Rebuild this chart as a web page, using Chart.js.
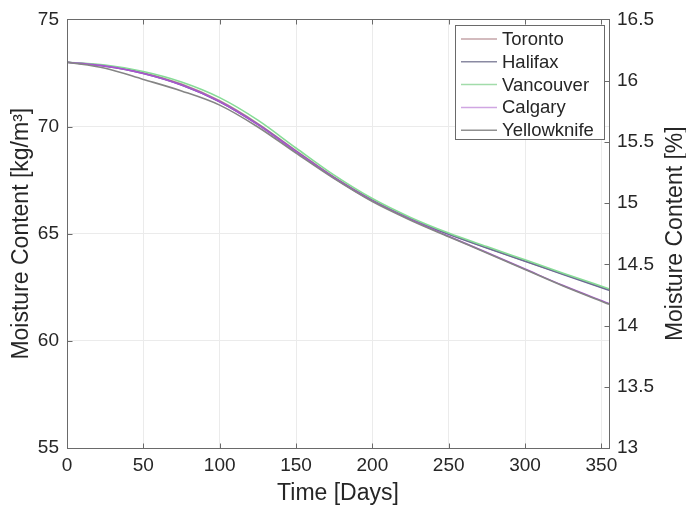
<!DOCTYPE html>
<html>
<head>
<meta charset="utf-8">
<script src="https://cdn.jsdelivr.net/npm/chart.js@4.4.1/dist/chart.umd.min.js"></script>
<style>
html,body{margin:0;padding:0;background:#fff;}
#wrap{width:686px;height:510px;position:relative;}
</style>
</head>
<body>
<div id="wrap"><canvas id="c" width="686" height="510"></canvas></div>
<script>
const days       = [0, 25, 50, 75, 100, 125, 150, 175, 200, 225, 250, 275, 300, 325, 355];
const toronto    = [73.0, 72.84, 72.51, 71.98, 71.20, 70.14, 68.88, 67.64, 66.58, 65.71, 64.99, 64.35, 63.73, 63.12, 62.38];
const halifax    = [73.0, 72.82, 72.48, 71.94, 71.16, 70.10, 68.84, 67.61, 66.55, 65.69, 64.97, 64.33, 63.71, 63.10, 62.36];
const vancouver  = [73.0, 72.87, 72.57, 72.08, 71.35, 70.30, 69.00, 67.73, 66.64, 65.76, 65.03, 64.40, 63.78, 63.16, 62.43];
const calgary    = [73.0, 72.82, 72.48, 71.94, 71.16, 70.09, 68.83, 67.60, 66.53, 65.66, 64.88, 64.12, 63.35, 62.58, 61.74];
const yellowknife= [73.0, 72.72, 72.20, 71.66, 71.00, 69.98, 68.76, 67.57, 66.50, 65.63, 64.86, 64.10, 63.33, 62.56, 61.71];

const cities = ['Toronto', 'Halifax', 'Vancouver', 'Calgary', 'Yellowknife'];
const seriesValues = [toronto, halifax, vancouver, calgary, yellowknife];
const colors = ['#b48a94', '#6c6c96', '#86dc96', '#a955d0', '#858585'];
const legendColors = ['#c4a4a8', '#8a8aa2', '#a2dcaa', '#d0a6e2', '#909090'];

const xTicks = [0, 50, 100, 150, 200, 250, 300, 350];
const leftTicks = [55, 60, 65, 70, 75];
const rightTicks = [13, 13.5, 14, 14.5, 15, 15.5, 16, 16.5];

const FONT = '"Liberation Sans", Arial, Helvetica, sans-serif';
const TXT = '#262626';

const datasets = cities.map((name, i) => ({
  label: name,
  data: days.map((d, j) => ({x: d, y: seriesValues[i][j]})),
  borderColor: colors[i],
  backgroundColor: colors[i],
  borderWidth: 1.6,
  pointRadius: 0,
  cubicInterpolationMode: 'monotone',
  fill: false,
  order: cities.length - i,
  yAxisID: 'y'
}));

const matlabPlugin = {
  id: 'matlab',
  afterDraw(chart) {
    const {ctx, chartArea: a, scales} = chart;
    const L = Math.round(a.left) + 0.5, R = Math.round(a.right) + 0.5;
    const T = Math.round(a.top) + 0.5, B = Math.round(a.bottom) + 0.5;
    ctx.save();
    ctx.strokeStyle = '#6a6a6a';
    ctx.lineWidth = 1;
    ctx.strokeRect(L, T, R - L, B - T);
    const tl = 5;
    ctx.beginPath();
    xTicks.forEach(v => {
      const px = Math.round(scales.x.getPixelForValue(v)) + 0.5;
      ctx.moveTo(px, B); ctx.lineTo(px, B - tl);
      ctx.moveTo(px, T); ctx.lineTo(px, T + tl);
    });
    leftTicks.forEach(v => {
      const py = Math.round(scales.y.getPixelForValue(v)) + 0.5;
      ctx.moveTo(L, py); ctx.lineTo(L + tl, py);
    });
    rightTicks.forEach(v => {
      const py = Math.round(scales.y2.getPixelForValue(v)) + 0.5;
      ctx.moveTo(R, py); ctx.lineTo(R - tl, py);
    });
    ctx.stroke();

    // legend box (inside plot, top right)
    const bx = 455.5, by = 25.5, bw = 149, bh = 114;
    ctx.fillStyle = '#ffffff';
    ctx.fillRect(bx, by, bw, bh);
    ctx.strokeStyle = '#6a6a6a';
    ctx.strokeRect(bx, by, bw, bh);
    ctx.font = '18.5px ' + FONT;
    ctx.textBaseline = 'middle';
    ctx.textAlign = 'left';
    cities.forEach((name, i) => {
      const yy = 39 + i * 22.8;
      ctx.strokeStyle = legendColors[i];
      ctx.lineWidth = 1.5;
      ctx.beginPath();
      ctx.moveTo(461, yy); ctx.lineTo(497, yy);
      ctx.stroke();
      ctx.fillStyle = TXT;
      ctx.fillText(name, 502, yy + 1);
    });

    // right axis title (reads bottom-to-top)
    ctx.save();
    ctx.translate(676, (a.top + a.bottom) / 2);
    ctx.rotate(-Math.PI / 2);
    ctx.font = '23px ' + FONT;
    ctx.fillStyle = TXT;
    ctx.textAlign = 'center';
    ctx.textBaseline = 'middle';
    ctx.fillText('Moisture Content [%]', 0, 0);
    ctx.restore();
    ctx.restore();
  }
};

new Chart(document.getElementById('c'), {
  type: 'line',
  data: { datasets },
  plugins: [matlabPlugin],
  options: {
    responsive: false,
    animation: false,
    events: [],
    layout: { padding: { top: 15, left: 0, right: 0, bottom: 0 } },
    plugins: { legend: { display: false }, tooltip: { enabled: false } },
    scales: {
      x: {
        type: 'linear', min: 0, max: 355,
        afterFit: s => { s.height = 62; },
        afterBuildTicks: s => { s.ticks = xTicks.map(v => ({value: v})); },
        ticks: { color: TXT, font: { family: FONT, size: 19 }, padding: 6, maxRotation: 0, includeBounds: false },
        grid: { color: '#ebebeb', drawTicks: false },
        border: { display: false },
        title: { display: true, text: 'Time [Days]', color: TXT, font: { family: FONT, size: 23 }, padding: { top: 2, bottom: 3 } }
      },
      y: {
        type: 'linear', position: 'left', min: 55, max: 75,
        afterFit: s => { s.width = 67; },
        afterBuildTicks: s => { s.ticks = leftTicks.map(v => ({value: v})); },
        ticks: { color: TXT, font: { family: FONT, size: 19 }, padding: 8 },
        grid: { color: '#ebebeb', drawTicks: false },
        border: { display: false },
        title: { display: true, text: 'Moisture Content [kg/m³]', color: TXT, font: { family: FONT, size: 23 }, padding: { top: 8, bottom: 4 } }
      },
      y2: {
        type: 'linear', position: 'right', min: 13, max: 16.5,
        afterFit: s => { s.width = 77; },
        afterBuildTicks: s => { s.ticks = rightTicks.map(v => ({value: v})); },
        ticks: { color: TXT, font: { family: FONT, size: 19 }, padding: 8,
                 callback: v => String(Math.round(v * 10) / 10) },
        grid: { display: false, drawTicks: false },
        border: { display: false }
      }
    }
  }
});
</script>
</body>
</html>
